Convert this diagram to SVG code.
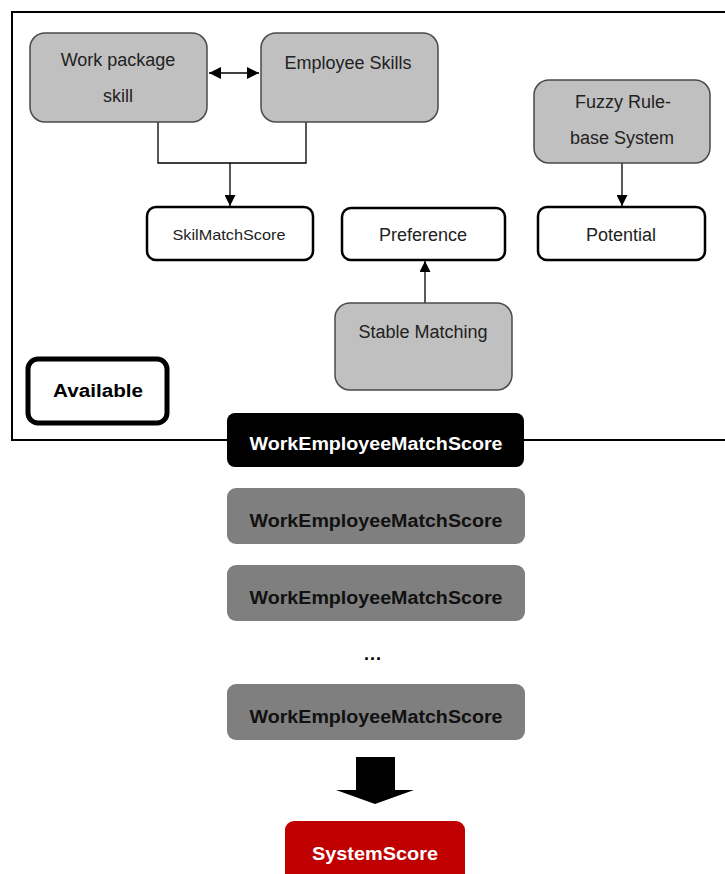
<svg xmlns="http://www.w3.org/2000/svg" width="725" height="874" viewBox="0 0 725 874">
  <style>
    .src { fill: #c0c0c0; stroke: #4a4a4a; stroke-width: 1.5; }
    .out { fill: #ffffff; stroke: #000000; stroke-width: 2.5; }
    .lbl { font-family: "Liberation Sans", Arial, sans-serif; font-size: 18px; fill: #222222; text-anchor: middle; }
    .bold { font-family: "Liberation Sans", Arial, sans-serif; font-weight: bold; font-size: 18px; text-anchor: middle; }
    .wire { fill: none; stroke: #000000; stroke-width: 1.3; }
    .score { fill: #7f7f7f; }
  </style>
  <defs>
    <marker id="ah" viewBox="0 0 10 10" refX="10" refY="5" markerWidth="11" markerHeight="11" markerUnits="userSpaceOnUse" orient="auto-start-reverse">
      <path d="M0,0 L10,5 L0,10 z" fill="#000000"/>
    </marker>
    <marker id="ah2" viewBox="0 0 10 10" refX="10" refY="5" markerWidth="12" markerHeight="12" markerUnits="userSpaceOnUse" orient="auto-start-reverse">
      <path d="M0,0 L10,5 L0,10 z" fill="#000000"/>
    </marker>
  </defs>

  <!-- frame around the inputs -->
  <path d="M727,12 H12 V440 H727" fill="none" stroke="#000000" stroke-width="2"/>

  <g id="connectors">
    <line class="wire" x1="209" y1="73" x2="259" y2="73" marker-start="url(#ah2)" marker-end="url(#ah2)"/>
    <path class="wire" d="M158,122 V163 H306 V122"/>
    <line class="wire" x1="230" y1="163" x2="230" y2="206" marker-end="url(#ah)"/>
    <line class="wire" x1="622" y1="163" x2="622" y2="206" marker-end="url(#ah)"/>
    <line class="wire" x1="425" y1="303" x2="425" y2="261" marker-end="url(#ah)"/>
  </g>

  <g id="work-package-skill">
    <rect class="src" x="30" y="33" width="177" height="89" rx="15"/>
    <text class="lbl" x="118" y="66">Work package</text>
    <text class="lbl" x="118" y="102">skill</text>
  </g>
  <g id="employee-skills">
    <rect class="src" x="261" y="33" width="177" height="89" rx="15"/>
    <text class="lbl" x="348" y="69">Employee Skills</text>
  </g>
  <g id="fuzzy-rule-base">
    <rect class="src" x="534" y="80" width="176" height="83" rx="15"/>
    <text class="lbl" x="623" y="108">Fuzzy Rule-</text>
    <text class="lbl" x="622" y="144">base System</text>
  </g>
  <g id="skill-match-score">
    <rect class="out" x="147" y="207" width="166" height="53" rx="9"/>
    <text class="lbl" x="229" y="240" textLength="113" lengthAdjust="spacingAndGlyphs" style="font-size:15px">SkilMatchScore</text>
  </g>
  <g id="preference">
    <rect class="out" x="342" y="208" width="163" height="52" rx="9"/>
    <text class="lbl" x="423" y="241">Preference</text>
  </g>
  <g id="potential">
    <rect class="out" x="538" y="207" width="167" height="53" rx="9"/>
    <text class="lbl" x="621" y="241">Potential</text>
  </g>
  <g id="stable-matching">
    <rect class="src" x="335" y="303" width="177" height="87" rx="15"/>
    <text class="lbl" x="423" y="338">Stable Matching</text>
  </g>
  <g id="available">
    <rect x="28" y="359" width="139" height="64" rx="10" fill="#ffffff" stroke="#000000" stroke-width="5"/>
    <text class="bold" x="98" y="397" textLength="90" lengthAdjust="spacingAndGlyphs" fill="#000000">Available</text>
  </g>

  <g id="match-score-current">
    <rect x="227" y="413" width="297" height="54" rx="8" fill="#000000"/>
    <text class="bold" x="376" y="450" textLength="253" lengthAdjust="spacingAndGlyphs" fill="#ffffff">WorkEmployeeMatchScore</text>
  </g>
  <g id="match-score-2">
    <rect class="score" x="227" y="488" width="298" height="56" rx="9"/>
    <text class="bold" x="376" y="527" textLength="253" lengthAdjust="spacingAndGlyphs" fill="#111111">WorkEmployeeMatchScore</text>
  </g>
  <g id="match-score-3">
    <rect class="score" x="227" y="565" width="298" height="56" rx="9"/>
    <text class="bold" x="376" y="604" textLength="253" lengthAdjust="spacingAndGlyphs" fill="#111111">WorkEmployeeMatchScore</text>
  </g>
  <text class="bold" x="373" y="660" fill="#000000" letter-spacing="1">...</text>
  <g id="match-score-n">
    <rect class="score" x="227" y="684" width="298" height="56" rx="9"/>
    <text class="bold" x="376" y="723" textLength="253" lengthAdjust="spacingAndGlyphs" fill="#111111">WorkEmployeeMatchScore</text>
  </g>

  <!-- aggregation arrow -->
  <path d="M356,757 H395 V790 H414 L375,804 L336,790 H356 Z" fill="#000000"/>

  <g id="system-score">
    <rect x="285" y="821" width="180" height="70" rx="9" fill="#c00000"/>
    <text class="bold" x="375" y="860" textLength="126" lengthAdjust="spacingAndGlyphs" fill="#ffffff">SystemScore</text>
  </g>
</svg>
